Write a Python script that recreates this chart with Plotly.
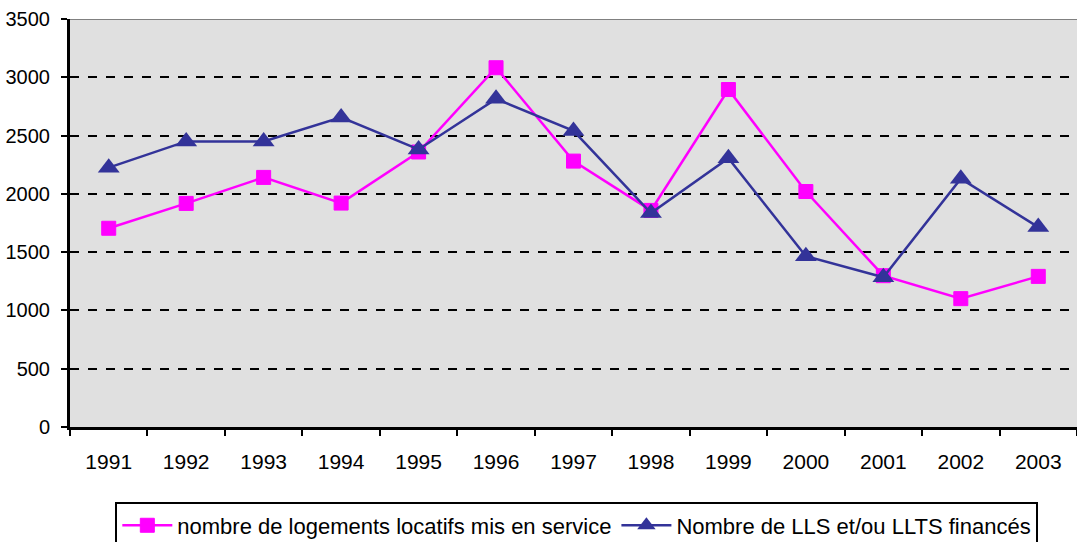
import plotly.graph_objects as go

years = ["1991", "1992", "1993", "1994", "1995", "1996", "1997", "1998", "1999", "2000", "2001", "2002", "2003"]
logements = [1705, 1918, 2141, 1921, 2359, 3082, 2281, 1858, 2895, 2020, 1298, 1101, 1292]
lls = [2225, 2450, 2450, 2656, 2381, 2815, 2540, 1835, 2305, 1465, 1285, 2130, 1715]
y_ticks = [0, 500, 1000, 1500, 2000, 2500, 3000, 3500]

fig = go.Figure()
fig.add_trace(go.Scatter(
    x=years, y=logements, mode="lines+markers",
    name="nombre de logements locatifs mis en service",
    line=dict(color="#FF00FF", width=2.5),
    marker=dict(symbol="square", size=14, color="#FF00FF",
                line=dict(color="#FF00FF", width=1)),
))
fig.add_trace(go.Scatter(
    x=years, y=lls, mode="lines+markers",
    name="Nombre de LLS et/ou LLTS financés",
    line=dict(color="#333399", width=2.5),
    marker=dict(symbol="triangle-up", size=19, color="#333399"),
))

fig.update_layout(
    width=1077, height=542,
    margin=dict(l=70, r=0, t=19, b=115, autoexpand=False),
    paper_bgcolor="white",
    plot_bgcolor="#E0E0E0",
    font=dict(family="Liberation Sans, Arial, sans-serif", size=21, color="black"),
    showlegend=True,
    legend=dict(
        orientation="h", x=0.045, y=-0.185, xanchor="left", yanchor="top",
        bordercolor="black", borderwidth=2, bgcolor="white",
        font=dict(size=22), itemwidth=50, tracegroupgap=0,
    ),
)
fig.update_xaxes(
    type="category", showgrid=False, automargin=False, range=[-0.5, 12.5],
    showline=True, linecolor="black", linewidth=3,
    ticks="outside", tickson="boundaries", ticklen=6, tickwidth=2, tickcolor="black",
    ticklabelstandoff=14, tickfont=dict(size=21),
)
fig.update_yaxes(
    range=[0, 3500], tickvals=y_ticks, automargin=False,
    showgrid=True, gridcolor="black", griddash="dash", gridwidth=1.5,
    showline=True, linecolor="black", linewidth=3,
    ticks="outside", ticklen=6, tickwidth=2, tickcolor="black",
    zeroline=False, tickfont=dict(size=20), ticklabelstandoff=7,
    ticklabeloverflow="allow",
)
# top border of plot area
fig.add_shape(type="line", xref="paper", yref="y", x0=0, x1=1, y0=3500, y1=3500,
              line=dict(color="#808080", width=2))

fig.write_html(
    "out.html",
    config={"displayModeBar": False},
    post_script="document.body.style.margin='0px';document.body.style.overflow='hidden';",
)
